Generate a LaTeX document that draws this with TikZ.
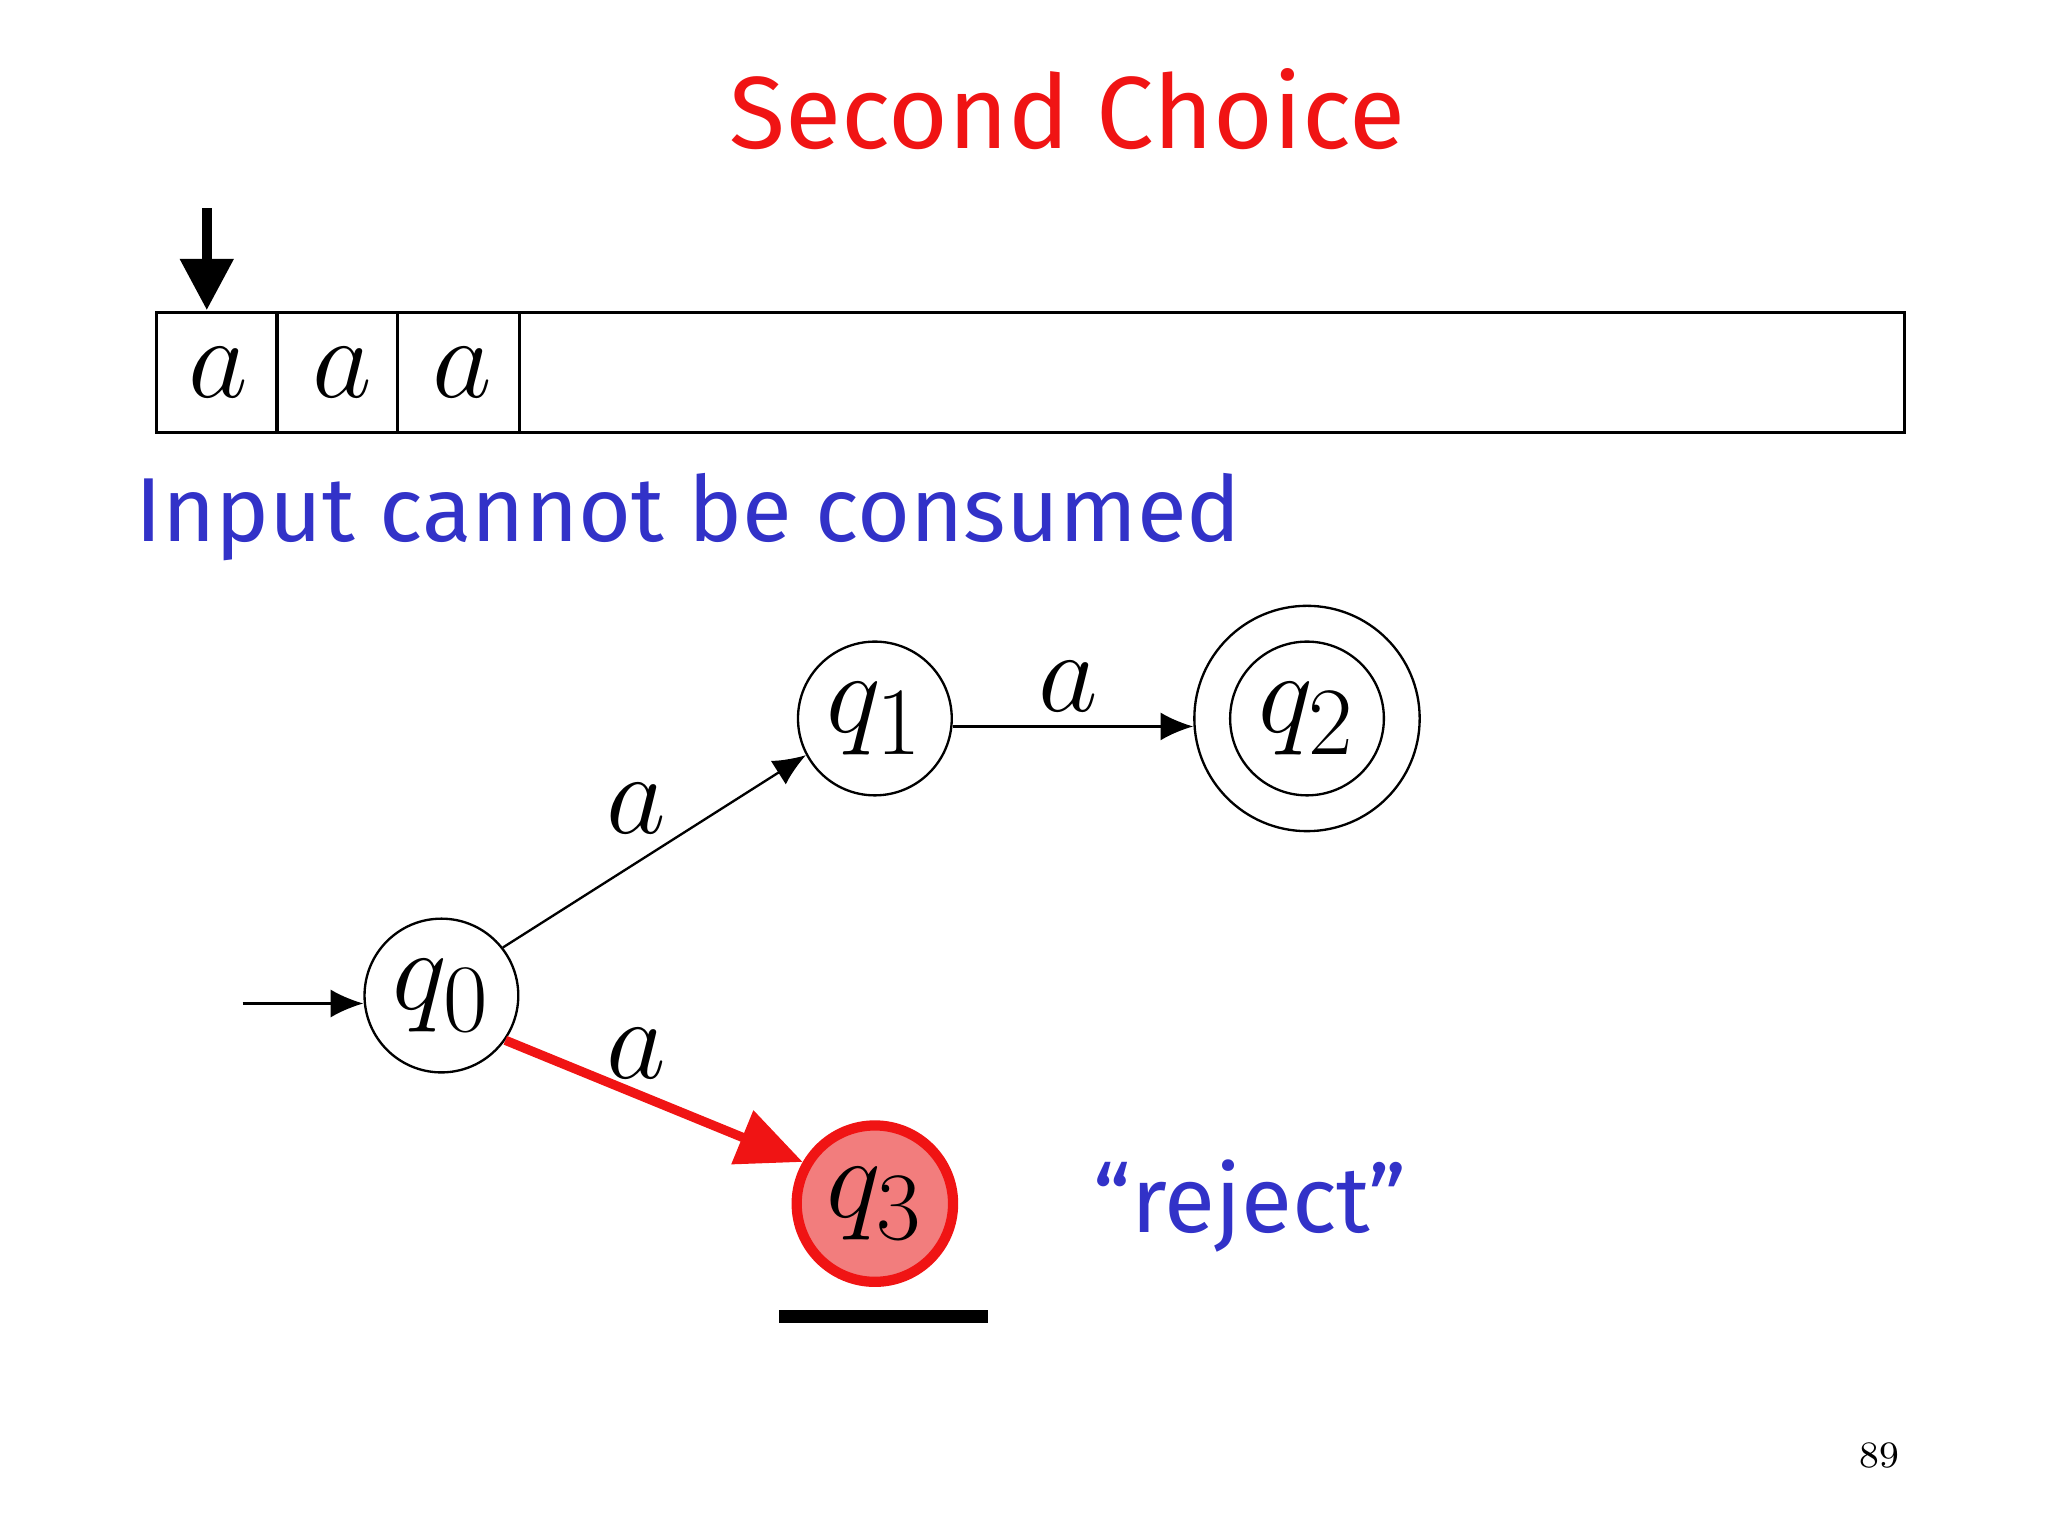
\documentclass[tikz,border=0pt]{standalone}
\usepackage{fontspec}
\setsansfont{Fira Sans}
\usetikzlibrary{arrows.meta}
\definecolor{ttred}{RGB}{240,20,20}
\definecolor{ttblue}{RGB}{50,50,200}
\definecolor{qfill}{RGB}{242,125,125}
\begin{document}
\begin{tikzpicture}[x=0.01cm,y=-0.01cm,
  st/.style={circle,draw,line width=0.5pt,minimum size=116*0.01cm,inner sep=0pt},
  lab/.style={font=\fontsize{26}{28}\selectfont},
  ar/.style={-{Latex[length=7pt,width=6pt]},line width=0.5pt}]
\useasboundingbox (0,0) rectangle (1545,1159);
\node[text=ttred,font=\sffamily\fontsize{22}{26}\selectfont] (title) at (805,82) {Second Choice};
\coordinate (hs) at (156,157);
\coordinate (he) at (156,234);
\draw[-{Triangle[length=11pt,width=11pt]},line width=2.2pt] (hs) -- (he);
\draw[line width=0.7pt] (118,236) rectangle (1437,326);
\foreach \x in {209,300,392} \draw[line width=0.7pt] (\x,236) -- (\x,326);
\foreach \x/\n in {165/t1,258/t2,349/t3} \node[lab] (\n) at (\x,281) {$a$};
\node[text=ttblue,font=\sffamily\fontsize{19.5}{24}\selectfont,anchor=west] (inp) at (90,390) {Input cannot be consumed};
\node[st] (q1) at (660,542) {\fontsize{28}{30}\selectfont$q_1$};
\node[st,minimum size=170*0.01cm] (q2o) at (986,542) {};
\node[st] (q2) at (986,542) {\fontsize{28}{30}\selectfont$q_2$};
\node[st] (q0) at (333,751) {\fontsize{28}{30}\selectfont$q_0$};
\node[st,draw=ttred,line width=2.2pt,fill=qfill,minimum size=118*0.01cm] (q3) at (660,908) {\fontsize{28}{30}\selectfont$q_3$};
\coordinate (s) at (183,757);
\draw[ar] (s) -- (s-|q0.west);
\draw[ar] (q0.38) -- (q1.208);
\draw[ar] (q1.east) ++(0,6) coordinate (b1) -- (b1-|q2o.west);
\draw[-{Triangle[length=14pt,width=12pt]},ttred,line width=2pt] (q0.-35) -- (q3.150);
\node[lab] (l1) at (480,610) {$a$};
\node[lab] (l2) at (806,518) {$a$};
\node[lab] (l3) at (480,795) {$a$};
\node[text=ttblue,font=\sffamily\fontsize{20}{24}\selectfont] (rej) at (943,910) {“reject”};
\coordinate (u1) at (588,993);
\coordinate (u2) at (745,993);
\draw[line width=2.8pt] (u1) -- (u2);
\node[font=\fontsize{8}{10}\selectfont] (pg) at (1418,1098) {89};
\end{tikzpicture}
\end{document}
